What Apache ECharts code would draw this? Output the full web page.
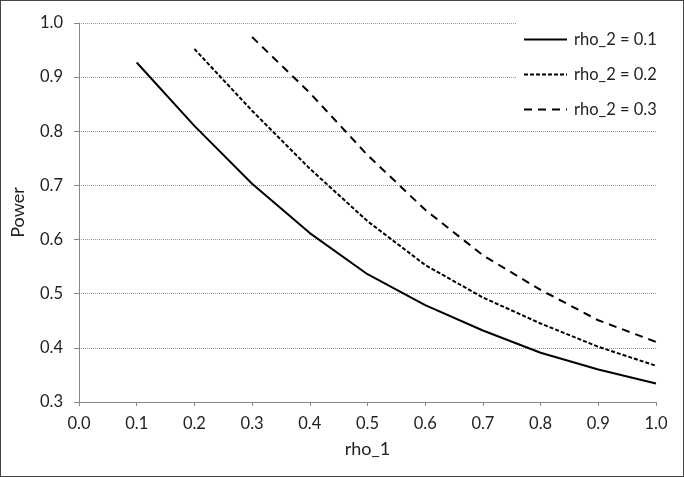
<!DOCTYPE html>
<html>
<head>
<meta charset="utf-8">
<script src="https://cdn.jsdelivr.net/npm/echarts@6/dist/echarts.min.js"></script>
<style>
    html, body { margin: 0; padding: 0; background: #fff; }
    #chart { width: 684px; height: 477px; box-sizing: border-box; border: 1px solid #444; }
</style>
</head>
<body>
<div id="chart"></div>
<script>
// rho_1 values on the x axis
const rho1 = [0.1, 0.2, 0.3, 0.4, 0.5, 0.6, 0.7, 0.8, 0.9, 1.0]
// power values (null where the curve has not started)
const power01 = [0.927, 0.810, 0.703, 0.612, 0.536, 0.479, 0.432, 0.391, 0.360, 0.334]
const power02 = [null, 0.952, 0.838, 0.731, 0.634, 0.553, 0.493, 0.445, 0.402, 0.367]
const power03 = [null, null, 0.974, 0.871, 0.756, 0.655, 0.571, 0.507, 0.451, 0.411]
const seriesNames = ['rho_2 = 0.1', 'rho_2 = 0.2', 'rho_2 = 0.3']

const font = 'Lato, "Liberation Sans", sans-serif'
const pairs = (ys) => rho1.map((x, i) => [x, ys[i]]).filter(p => p[1] !== null)

const myChart = echarts.init(document.getElementById('chart'))
myChart.setOption({
    animation: false,
    grid: { left: 77, right: 27, top: 22, bottom: 74 },
    legend: {
        orient: 'vertical',
        left: 515,
        top: 18,
        padding: [12, 6, 10, 7],
        backgroundColor: '#fff',
        itemWidth: 43,
        itemHeight: 14,
        itemGap: 18,
        data: seriesNames,
        //只显示线, 不显示圆点
        itemStyle: { opacity: 0 },
        textStyle: { fontFamily: font, fontSize: 16.5, color: '#222', padding: [0, 0, 0, 2] }
    },
    xAxis: {
        type: 'value',
        min: 0,
        max: 1,
        interval: 0.1,
        name: 'rho_1',
        nameLocation: 'middle',
        nameGap: 38,
        nameTextStyle: { fontFamily: font, fontSize: 18, color: '#222' },
        axisLine: { lineStyle: { color: '#888', width: 1 } },
        axisTick: { show: true, length: 4, inside: false, lineStyle: { color: '#888' } },
        axisLabel: { fontFamily: font, fontSize: 16.5, color: '#222', margin: 13, formatter: v => v.toFixed(1) },
        splitLine: { show: false }
    },
    yAxis: {
        type: 'value',
        min: 0.3,
        max: 1.0,
        interval: 0.1,
        name: 'Power',
        nameLocation: 'middle',
        nameGap: 52,
        nameTextStyle: { fontFamily: font, fontSize: 18, color: '#222' },
        axisLine: { show: true, lineStyle: { color: '#888', width: 1 } },
        axisTick: { show: true, length: 5, lineStyle: { color: '#888' } },
        axisLabel: { fontFamily: font, fontSize: 16.5, color: '#222', margin: 16, formatter: v => v.toFixed(1) },
        splitLine: { lineStyle: { color: '#999', type: [1, 1], width: 1 } }
    },
    series: [
        {
            name: seriesNames[0], type: 'line', data: pairs(power01),
            symbol: 'none', color: '#000',
            lineStyle: { color: '#000', width: 2, type: 'solid' }
        },
        {
            name: seriesNames[1], type: 'line', data: pairs(power02),
            symbol: 'none', color: '#000',
            lineStyle: { color: '#000', width: 2, type: [4, 2] }
        },
        {
            name: seriesNames[2], type: 'line', data: pairs(power03),
            symbol: 'none', color: '#000',
            lineStyle: { color: '#000', width: 2, type: [8, 6] }
        }
    ]
})
</script>
</body>
</html>
